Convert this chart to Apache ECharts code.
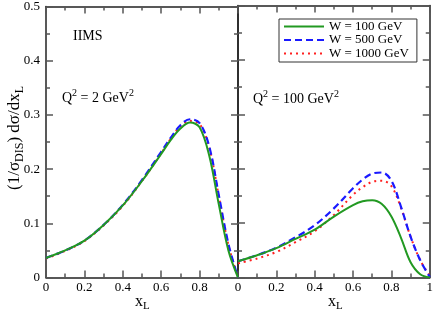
<!DOCTYPE html>
<html>
<head>
<meta charset="utf-8">
<script src="https://cdn.jsdelivr.net/npm/echarts@6/dist/echarts.min.js"></script>
<style>html,body{margin:0;padding:0;background:#fff}#c{width:436px;height:312px}</style>
</head>
<body>
<div id="c"></div>
<script>
// x_L sample points
var xL = [0, 0.1, 0.2, 0.3, 0.4, 0.5, 0.6, 0.65, 0.7, 0.75, 0.8, 0.85, 0.9, 0.95, 1.0];
// Left panel: Q^2 = 2 GeV^2
var q2_W100  = [0.036, 0.050, 0.068, 0.097, 0.133, 0.178, 0.228, 0.254, 0.275, 0.286, 0.277, 0.225, 0.135, 0.050, 0];
var q2_W500  = [0.036, 0.050, 0.068, 0.097, 0.134, 0.180, 0.232, 0.258, 0.281, 0.292, 0.285, 0.242, 0.152, 0.062, 0];
var q2_W1000 = [0.035, 0.049, 0.067, 0.096, 0.132, 0.178, 0.229, 0.256, 0.279, 0.289, 0.283, 0.240, 0.150, 0.060, 0];
// Right panel: Q^2 = 100 GeV^2
var q100_W100  = [0.030, 0.041, 0.054, 0.071, 0.088, 0.112, 0.133, 0.140, 0.142, 0.135, 0.112, 0.073, 0.028, 0.006, 0];
var q100_W500  = [0.030, 0.041, 0.055, 0.074, 0.096, 0.127, 0.164, 0.180, 0.191, 0.193, 0.178, 0.130, 0.075, 0.032, 0.001];
var q100_W1000 = [0.026, 0.035, 0.047, 0.065, 0.085, 0.115, 0.152, 0.166, 0.176, 0.178, 0.168, 0.128, 0.075, 0.032, 0.003];
var seriesNames = ['W = 100 GeV', 'W = 500 GeV', 'W = 1000 GeV'];
var yTicks = [0, 0.1, 0.2, 0.3, 0.4, 0.5];
var xTicks = [0, 0.2, 0.4, 0.6, 0.8, 1];

var FONT = 'Liberation Serif';
function pairs(v) { return xL.map(function (x, i) { return [x, v[i]]; }); }

var styles = [
  { color: '#229922', width: 2, type: 'solid' },
  { color: '#1a1aff', width: 2.2, type: [7, 4] },
  { color: '#ff2020', width: 2, type: [2, 4] }
];

function xAx(grid, pos, showLabel, hideMax) {
  return {
    type: 'value', gridIndex: grid, position: pos, min: 0, max: 1, interval: 0.2,
    axisLine: { show: true, onZero: false, lineStyle: { color: '#222', width: 1.5 } },
    axisTick: { show: true, inside: true, length: 7, lineStyle: { color: '#555', width: 1.5 } },
    minorTick: { show: true, splitNumber: 2, length: 4, lineStyle: { color: '#555', width: 1.5 } },
    splitLine: { show: false },
    axisLabel: {
      show: showLabel, margin: 4, color: '#000', fontFamily: FONT, fontSize: 13,
      formatter: function (v) { if (hideMax && v === 1) return ''; return v === 0 ? '0' : (v === 1 ? '1' : v.toFixed(1)); }
    }
  };
}
function yAx(grid, pos, showLabel) {
  return {
    type: 'value', gridIndex: grid, position: pos, min: 0, max: 0.5, interval: 0.1,
    axisLine: { show: true, onZero: false, lineStyle: { color: '#222', width: 1.5 } },
    axisTick: { show: true, inside: true, length: 7, lineStyle: { color: '#555', width: 1.5 } },
    minorTick: { show: true, splitNumber: 2, length: 4, lineStyle: { color: '#555', width: 1.5 } },
    splitLine: { show: false },
    axisLabel: {
      show: showLabel, margin: 6, color: '#000', fontFamily: FONT, fontSize: 13,
      formatter: function (v) { return v === 0 ? '0' : v.toFixed(1); }
    }
  };
}

var series = [];
[[q2_W100, q2_W500, q2_W1000], [q100_W100, q100_W500, q100_W1000]].forEach(function (set, p) {
  set.forEach(function (vals, i) {
    series.push({
      type: 'line', name: seriesNames[i], xAxisIndex: p * 2, yAxisIndex: p * 2,
      data: pairs(vals), smooth: 0.35, symbol: 'none', z: 3 - i + 2,
      lineStyle: { color: styles[i].color, width: styles[i].width, type: styles[i].type },
      itemStyle: { color: styles[i].color }
    });
  });
});

var rich = {
  m: { fontFamily: FONT, fontSize: 14, lineHeight: 20, verticalAlign: 'middle', fill: '#000' },
  sup: { fontFamily: FONT, fontSize: 10, lineHeight: 8, verticalAlign: 'top', fill: '#000' },
  sub: { fontFamily: FONT, fontSize: 11, lineHeight: 8, verticalAlign: 'bottom', fill: '#000' },
  big: { fontFamily: FONT, fontSize: 17, lineHeight: 22, verticalAlign: 'middle', fill: '#000' },
  bsub: { fontFamily: FONT, fontSize: 12, lineHeight: 8, verticalAlign: 'bottom', fill: '#000' },
  xl: { fontFamily: FONT, fontSize: 16, lineHeight: 20, verticalAlign: 'middle', fill: '#000' },
  xsub: { fontFamily: FONT, fontSize: 11, lineHeight: 6, verticalAlign: 'bottom', fill: '#000' }
};

var chart = echarts.init(document.getElementById('c'), null, { renderer: 'canvas' });
chart.setOption({
  animation: false,
  backgroundColor: '#fff',
  grid: [
    { left: 46, top: 5.5, width: 192, height: 272 },
    { left: 238, top: 5.5, width: 194, height: 272 }
  ],
  xAxis: [xAx(0, 'bottom', true, true), xAx(0, 'top', false), xAx(1, 'bottom', true, false), xAx(1, 'top', false)],
  yAxis: [yAx(0, 'left', true), yAx(0, 'right', false), yAx(1, 'left', false), yAx(1, 'right', false)],
  legend: {
    orient: 'vertical', left: 279, top: 19,
    data: seriesNames,
    itemWidth: 40, itemHeight: 13, itemGap: 0.5,
    padding: [1, 8, 2, 4],
    borderColor: '#333', borderWidth: 1, borderRadius: 0,
    itemStyle: { opacity: 0 },
    textStyle: { fontFamily: FONT, fontSize: 13, color: '#000' },
    selectedMode: false
  },
  graphic: [
    { type: 'text', x: 73, y: 29, style: { text: 'IIMS', fontFamily: FONT, fontSize: 14, fill: '#000' } },
    { type: 'text', x: 62, y: 88, style: { text: '{m|Q}{sup|2}{m| = 2 GeV}{sup|2}', rich: rich } },
    { type: 'text', x: 253, y: 89, style: { text: '{m|Q}{sup|2}{m| = 100 GeV}{sup|2}', rich: rich } },
    { type: 'text', x: 135, y: 292, style: { text: '{xl|x}{xsub|L}', rich: rich } },
    { type: 'text', x: 328, y: 292, style: { text: '{xl|x}{xsub|L}', rich: rich } },
    { type: 'text', x: 15, y: 138, rotation: Math.PI / 2,
      style: { text: '{big|(1/σ}{bsub|DIS}{big|) dσ/dx}{bsub|L}', rich: rich, align: 'center', verticalAlign: 'middle' } }
  ],
  series: series
});
</script>
</body>
</html>
